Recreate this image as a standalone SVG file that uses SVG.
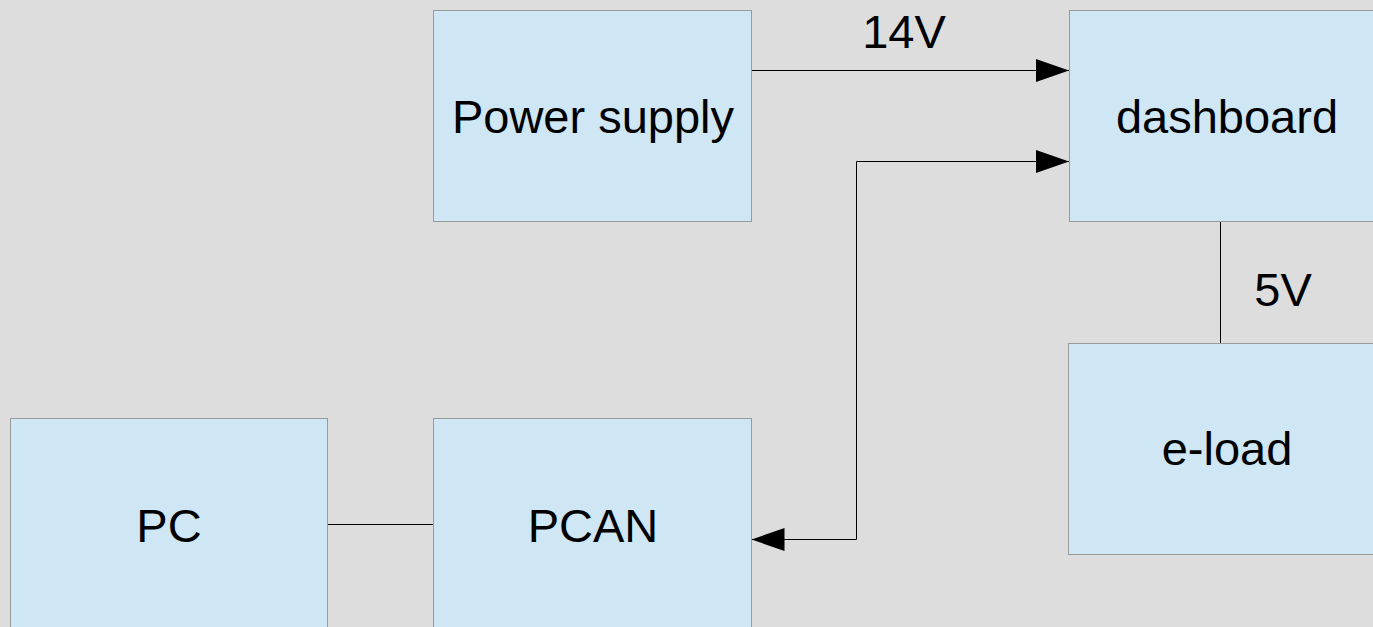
<svg xmlns="http://www.w3.org/2000/svg" width="1373" height="627" viewBox="0 0 1373 627">
<style>
.box{fill:#cfe6f4;stroke:#9a9a9a;stroke-width:1}
.lbl{font-family:"Liberation Sans",Arial,sans-serif;font-size:47px;fill:#000;text-anchor:middle}
.ln{fill:none;stroke:#000;stroke-width:1}
</style>
<defs>
<marker id="ah" markerUnits="userSpaceOnUse" markerWidth="34" markerHeight="24" refX="33" refY="11.5" orient="auto-start-reverse">
<path d="M0,0 L33,11.5 L0,23 Z" fill="#000"/>
</marker>
</defs>
<rect width="1373" height="627" fill="#dddddd"/>
<g id="connectors">
<path class="ln" d="M751.5,70.5 H1069" marker-end="url(#ah)"/>
<path class="ln" d="M751.5,539.5 H856.5 V161.5 H1069" marker-start="url(#ah)" marker-end="url(#ah)"/>
<path class="ln" d="M327.5,524.5 H433.5"/>
<path class="ln" d="M1220.5,222 V343" stroke="#555"/>
<text class="lbl" x="904" y="48">14V</text>
<text class="lbl" x="1283" y="306">5V</text>
</g>
<g id="power-supply">
<rect class="box" x="433.5" y="10.5" width="318" height="211"/>
<text class="lbl" x="593" y="133">Power supply</text>
</g>
<g id="dashboard">
<rect class="box" x="1069.5" y="10.5" width="318" height="211"/>
<text class="lbl" x="1227" y="133">dashboard</text>
</g>
<g id="e-load">
<rect class="box" x="1068.5" y="343.5" width="318" height="211"/>
<text class="lbl" x="1227" y="465">e-load</text>
</g>
<g id="pc">
<rect class="box" x="10.5" y="418.5" width="317" height="230"/>
<text class="lbl" x="169" y="542">PC</text>
</g>
<g id="pcan">
<rect class="box" x="433.5" y="418.5" width="318" height="230"/>
<text class="lbl" x="593" y="542">PCAN</text>
</g>
</svg>
